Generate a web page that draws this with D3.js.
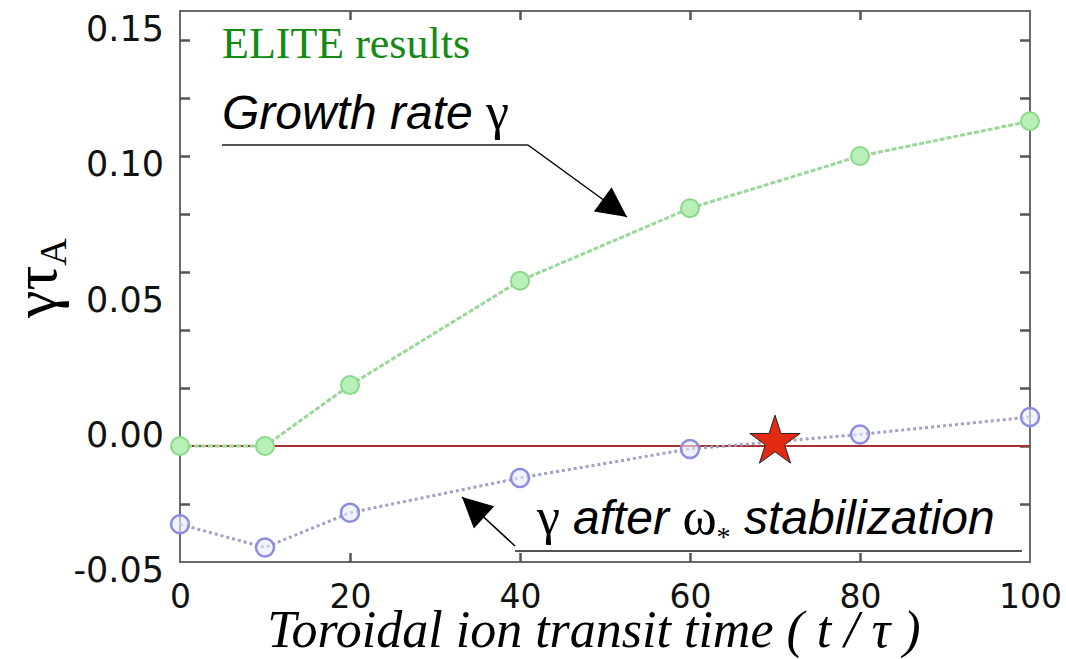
<!DOCTYPE html>
<html>
<head>
<meta charset="utf-8">
<script src="https://cdn.jsdelivr.net/npm/d3@7"></script>
<style>
  html, body { margin: 0; padding: 0; background: #fff; }
  svg { display: block; }
</style>
</head>
<body>
<svg id="chart" width="1066" height="659"></svg>
<script>
// ---- data ----
const transitTime = [0, 10, 20, 40, 60, 80, 100];
const growthRate = [0.000, 0.000, 0.021, 0.057, 0.082, 0.100, 0.112];
const growthRateAfterDiamag = [-0.027, -0.035, -0.023, -0.011, -0.001, 0.004, 0.010];
const markedPoint = [70, 0.0015];
const xTickValues = [0, 20, 40, 60, 80, 100];
const yTickLabels = [-0.05, 0.00, 0.05, 0.10, 0.15];
const yFrameTicks = [-0.02, 0.00, 0.02, 0.04, 0.06, 0.08, 0.10, 0.12, 0.14];
const xDomain = [0, 100];
const yDomain = [-0.04, 0.15];

// ---- layout ----
const L = 180, R = 1030, T = 11, B = 562;
const svg = d3.select("#chart");

const x = d3.scaleLinear().domain(xDomain).range([L, R]);
const y = d3.scaleLinear().domain(yDomain).range([B, T]);
// tick labels of the reference sit on their own spacing
const yLab = d3.scaleLinear().domain([-0.05, 0.15]).range([569, 28]);

// frame
svg.append("rect").attr("x", L).attr("y", T).attr("width", R - L).attr("height", B - T)
  .attr("fill", "none").attr("stroke", "#6a6a6a").attr("stroke-width", 2);

// inner ticks
const tickColor = "#555";
const inner = xTickValues.filter(v => v > xDomain[0] && v < xDomain[1]);
const gBottom = svg.append("g").attr("transform", `translate(0,${B})`)
  .call(d3.axisBottom(x).tickValues(inner).tickSize(-9).tickFormat(""));
const gTop = svg.append("g").attr("transform", `translate(0,${T})`)
  .call(d3.axisTop(x).tickValues(inner).tickSize(-9).tickFormat(""));
const gLeft = svg.append("g").attr("transform", `translate(${L},0)`)
  .call(d3.axisLeft(y).tickValues(yFrameTicks).tickSize(-10).tickFormat(""));
const gRight = svg.append("g").attr("transform", `translate(${R},0)`)
  .call(d3.axisRight(y).tickValues(yFrameTicks).tickSize(-10).tickFormat(""));
[gBottom, gTop, gLeft, gRight].forEach(g => {
  g.select(".domain").remove();
  g.selectAll(".tick line").attr("stroke", tickColor).attr("stroke-width", 2.5);
});

// x tick labels
const gXLab = svg.append("g").attr("transform", `translate(0,${B})`)
  .call(d3.axisBottom(x).tickValues(xTickValues).tickSize(0).tickPadding(0).tickFormat(d3.format("d")));
gXLab.select(".domain").remove();
gXLab.selectAll(".tick text").attr("font-family", "DejaVu Sans").attr("font-size", 33)
  .attr("fill", "#111").attr("y", 46).attr("dy", 0);

// y tick labels (plain hyphen for negatives, as in the reference)
const fmtY = v => d3.format(".2f")(v).replace("\u2212", "-");
const gYLab = svg.append("g").attr("transform", `translate(164,0)`)
  .call(d3.axisLeft(yLab).tickValues(yTickLabels).tickSize(0).tickPadding(0).tickFormat(fmtY));
gYLab.select(".domain").remove();
gYLab.selectAll(".tick text").attr("font-family", "DejaVu Sans").attr("font-size", 35)
  .attr("fill", "#111").attr("x", 0).attr("dy", "0.36em");

// zero line
svg.append("line").attr("x1", x(xDomain[0])).attr("x2", x(xDomain[1]))
  .attr("y1", y(0)).attr("y2", y(0)).attr("stroke", "#a83232").attr("stroke-width", 1.8);

// series
const line = d3.line().x(d => x(d[0])).y(d => y(d[1]));
const gData = transitTime.map((t, i) => [t, growthRate[i]]);
const bData = transitTime.map((t, i) => [t, growthRateAfterDiamag[i]]);

svg.append("path").datum(gData).attr("d", line).attr("fill", "none")
  .attr("stroke", "#9ad89a").attr("stroke-width", 3).attr("stroke-dasharray", "5,2");
svg.append("path").datum(bData).attr("d", line).attr("fill", "none")
  .attr("stroke", "#a0a0c8").attr("stroke-width", 3).attr("stroke-dasharray", "3,3");

svg.append("g").selectAll("circle").data(gData).join("circle")
  .attr("cx", d => x(d[0])).attr("cy", d => y(d[1])).attr("r", 9)
  .attr("fill", "#b8f0b8").attr("stroke", "#8ad88a").attr("stroke-width", 2);
svg.append("g").selectAll("circle").data(bData).join("circle")
  .attr("cx", d => x(d[0])).attr("cy", d => y(d[1])).attr("r", 9)
  .attr("fill", "rgba(235,235,255,0.6)").attr("stroke", "#8c8ce0").attr("stroke-width", 2.5);

// star
const starR = 26.5;
svg.append("path")
  .attr("d", d3.symbol(d3.symbolStar, starR * starR / 0.89081309152928522810)())
  .attr("transform", `translate(${x(markedPoint[0])},${y(markedPoint[1])})`)
  .attr("fill", "#e32a12").attr("stroke", "#222").attr("stroke-width", 1);

// arrows
const defs = svg.append("defs");
defs.append("marker").attr("id", "ah").attr("viewBox", "0 0 10 10")
  .attr("refX", 10).attr("refY", 5).attr("markerWidth", 36).attr("markerHeight", 30)
  .attr("markerUnits", "userSpaceOnUse").attr("orient", "auto")
  .append("path").attr("d", "M0,0 L10,5 L0,10 Z").attr("fill", "#000");

// ELITE results
svg.append("text").attr("x", 222).attr("y", 58).attr("font-family", "Liberation Serif")
  .attr("font-size", 44).attr("fill", "#138a13").text("ELITE results");

// Growth rate annotation
const gr = svg.append("text").attr("x", 222).attr("y", 129).attr("font-size", 48).attr("fill", "#000");
gr.append("tspan").attr("font-family", "Liberation Sans").attr("font-style", "italic").text("Growth rate ");
gr.append("tspan").attr("font-family", "Liberation Serif").attr("font-size", 52).text("γ");
svg.append("line").attr("x1", 222).attr("x2", 528).attr("y1", 145).attr("y2", 145)
  .attr("stroke", "#555").attr("stroke-width", 2);
svg.append("line").attr("x1", 528).attr("y1", 145).attr("x2", 627).attr("y2", 217)
  .attr("stroke", "#000").attr("stroke-width", 1.5).attr("marker-end", "url(#ah)");

// gamma after omega* annotation
const ga = svg.append("text").attr("x", 537).attr("y", 534).attr("font-size", 48).attr("fill", "#000");
ga.append("tspan").attr("font-family", "Liberation Serif").attr("font-size", 52).text("γ ");
ga.append("tspan").attr("font-family", "Liberation Sans").attr("font-style", "italic").text("after ");
ga.append("tspan").attr("font-family", "Liberation Serif").attr("font-size", 52).text("ω");
ga.append("tspan").attr("font-family", "Liberation Serif").attr("font-size", 28).attr("dy", 12).text("*");
ga.append("tspan").attr("font-family", "Liberation Sans").attr("font-style", "italic").attr("dy", -12).text(" stabilization");
svg.append("line").attr("x1", 515).attr("x2", 1022).attr("y1", 551).attr("y2", 551)
  .attr("stroke", "#555").attr("stroke-width", 2);
svg.append("line").attr("x1", 515).attr("y1", 546).attr("x2", 462).attr("y2", 497)
  .attr("stroke", "#000").attr("stroke-width", 1.5).attr("marker-end", "url(#ah)");

// x axis title
svg.append("text").attr("x", 594).attr("y", 647).attr("text-anchor", "middle")
  .attr("font-family", "Liberation Serif").attr("font-style", "italic").attr("font-size", 52)
  .attr("fill", "#000").text("Toroidal ion transit time ( t / τ )");

// y axis title
const yt = svg.append("text").attr("transform", "translate(56,318) rotate(-90)")
  .attr("text-anchor", "start").attr("font-family", "Liberation Serif").attr("font-size", 62).attr("fill", "#000");
yt.append("tspan").text("γτ");
yt.append("tspan").attr("font-size", 38).attr("dy", 10).text("A");
</script>
</body>
</html>
